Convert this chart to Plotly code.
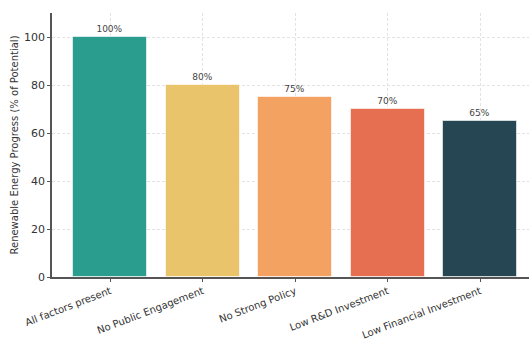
import plotly.graph_objects as go

# Scenario categories and progress values (% of potential)
categories = [
    "All factors present",
    "No Public Engagement",
    "No Strong Policy",
    "Low R&D Investment",
    "Low Financial Investment",
]
progress = [100, 80, 75, 70, 65]
bar_colors = ["#2a9d8f", "#e9c46a", "#f4a261", "#e76f51", "#264653"]
y_ticks = [0, 20, 40, 60, 80, 100]

fig = go.Figure(
    go.Bar(
        x=list(range(len(categories))),
        y=progress,
        width=0.8,
        marker=dict(color=bar_colors, line=dict(color="rgba(255,255,255,0.6)", width=1)),
        text=[f"{v}%" for v in progress],
        textposition="outside",
        textfont=dict(family="DejaVu Sans", size=9, color="#444444"),
        cliponaxis=False,
    )
)

fig.update_layout(
    width=529,
    height=341,
    margin=dict(l=52, r=0, t=13, b=64),
    plot_bgcolor="white",
    paper_bgcolor="white",
    showlegend=False,
    font=dict(family="DejaVu Sans", color="#333333"),
    bargap=0,
)

fig.update_xaxes(
    automargin=False,
    range=[-0.63, 4.53],
    tickmode="array",
    tickvals=list(range(len(categories))),
    ticktext=categories,
    tickangle=-21,
    tickfont=dict(size=10, color="#333333"),
    showline=True,
    linecolor="#555555",
    linewidth=1.5,
    ticks="outside",
    ticklen=3,
    tickcolor="#555555",
    showgrid=True,
    gridcolor="#e2e2e2",
    griddash="3px,2px",
    gridwidth=1,
    zeroline=False,
)

fig.update_yaxes(
    automargin=False,
    range=[0, 110],
    tickmode="array",
    tickvals=y_ticks,
    tickfont=dict(size=11, color="#333333"),
    title=dict(
        text="Renewable Energy Progress (% of Potential)",
        font=dict(size=10, color="#333333"),
        standoff=4,
    ),
    showline=True,
    linecolor="#555555",
    linewidth=1.5,
    ticks="outside",
    ticklen=3,
    tickcolor="#555555",
    showgrid=True,
    gridcolor="#e2e2e2",
    griddash="3px,2px",
    gridwidth=1,
    zeroline=False,
)

fig.write_html("out.html")
